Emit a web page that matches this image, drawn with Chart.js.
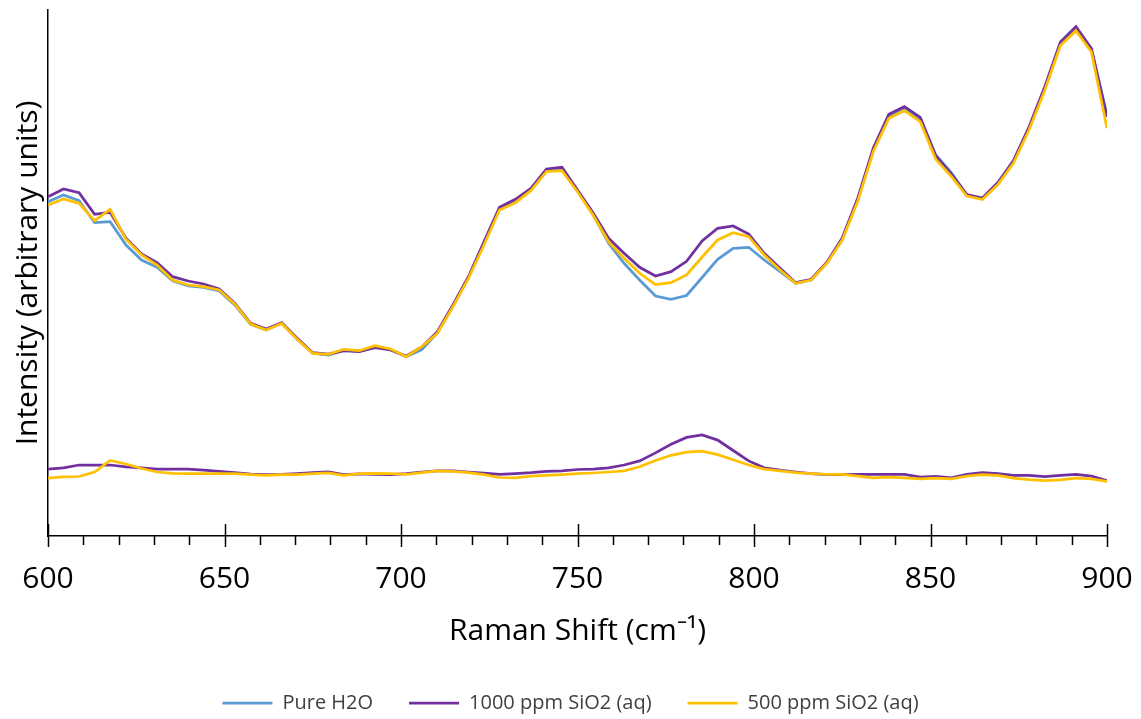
<!DOCTYPE html>
<html>
<head>
<meta charset="utf-8">
<script src="https://cdn.jsdelivr.net/npm/chart.js@4/dist/chart.umd.min.js"></script>
<style>
  html, body { margin: 0; padding: 0; background: #ffffff; }
  #wrap { width: 1141px; height: 719px; }
</style>
</head>
<body>
<div id="wrap"><canvas id="c" width="1141" height="719"></canvas></div>
<script>
// Raman shift positions (cm-1)
const ramanShift = [600.0, 604.4, 608.8, 613.2, 617.6, 622.1, 626.5, 630.9, 635.3, 639.7, 644.1, 648.5, 652.9, 657.4, 661.8, 666.2, 670.6, 675.0, 679.4, 683.8, 688.2, 692.6, 697.1, 701.5, 705.9, 710.3, 714.7, 719.1, 723.5, 727.9, 732.4, 736.8, 741.2, 745.6, 750.0, 754.4, 758.8, 763.2, 767.6, 772.1, 776.5, 780.9, 785.3, 789.7, 794.1, 798.5, 802.9, 807.4, 811.8, 816.2, 820.6, 825.0, 829.4, 833.8, 838.2, 842.6, 847.1, 851.5, 855.9, 860.3, 864.7, 869.1, 873.5, 877.9, 882.4, 886.8, 891.2, 895.6, 900.0];

// Intensities (arbitrary units)
const pureH2O = [334.3, 341, 335.3, 313.3, 314.3, 291, 276, 268.7, 255.3, 250, 248.7, 245, 231, 211.7, 206, 212.7, 196.7, 182.7, 181, 185.3, 185, 189.3, 186, 179.3, 186.5, 203, 230, 258.7, 292.7, 327, 335, 346.7, 366, 366.7, 345.3, 322, 292.7, 272.7, 256, 240, 236.7, 240.5, 258.5, 276.7, 287.7, 288.7, 276, 264.3, 252.7, 256, 273, 296.7, 336.5, 386.5, 419.5, 427.7, 417, 381, 363.3, 341, 337.5, 352.7, 374.3, 407.7, 447.7, 492.5, 507.5, 486, 421];

const sio2_1000 = [339.3, 347, 343.3, 321.7, 323.7, 297.7, 282, 273.3, 259.3, 255, 252, 247, 232.7, 212.7, 207, 213.3, 197.7, 183.3, 182, 185.3, 184.3, 188.3, 186, 180, 189, 204.3, 231, 259.3, 294.3, 328.7, 336.7, 347.7, 367, 368.7, 346, 323.3, 297.7, 282.7, 268.7, 260, 264.3, 274.7, 295, 307.7, 310, 302, 282.7, 267.7, 253.3, 256.7, 273.5, 298, 338, 388, 421.7, 429.3, 418.7, 380, 362, 341.5, 338, 353.5, 375.5, 409, 449.5, 494, 509.3, 487.5, 419];

const sio2_500 = [331, 337, 332.7, 315.3, 326.7, 296.7, 281, 271, 256, 251, 249.3, 246, 232, 212, 206, 212.7, 196.7, 182.7, 181.7, 186.7, 185.3, 190.3, 187, 179.3, 189.3, 202.7, 229.3, 257.7, 291, 326, 333.3, 345.3, 364.3, 365.3, 344.3, 321, 294.3, 277.7, 262.7, 251.5, 253.3, 261, 279, 296, 303.3, 299.3, 281, 266, 252.7, 256, 272.5, 296, 335, 384.5, 417.7, 425.3, 414.3, 376.7, 359.5, 340, 336.5, 351.5, 373, 406, 446, 490.5, 505.3, 484, 407.7];

// lower traces
const diff_1000 = [66.8, 68.2, 71.0, 71.0, 71.0, 69.2, 68.2, 66.8, 66.8, 66.8, 65.8, 64.7, 63.3, 62.0, 61.3, 61.6, 62.3, 63.3, 64.0, 61.3, 62.0, 61.6, 61.3, 62.3, 64.0, 65.1, 65.1, 64.0, 63.0, 61.6, 62.3, 63.3, 64.7, 65.1, 66.5, 66.8, 68.2, 71.0, 75.1, 83.1, 91.7, 98.6, 101.1, 95.9, 85.5, 75.1, 68.2, 65.8, 64.0, 62.3, 61.3, 61.3, 61.6, 61.6, 61.6, 61.6, 58.8, 59.5, 58.2, 61.6, 63.3, 62.3, 60.6, 60.6, 59.5, 60.6, 61.6, 59.9, 55.4];

const diff_500 = [57.8, 59.2, 59.5, 64.0, 75.5, 72.0, 67.5, 64.0, 62.7, 62.3, 62.3, 62.3, 62.3, 61.3, 60.6, 61.3, 61.3, 62.3, 63.0, 60.6, 62.3, 62.7, 62.3, 61.6, 63.3, 65.1, 64.7, 63.3, 61.3, 58.5, 58.2, 59.9, 60.6, 61.3, 62.3, 63.0, 64.0, 65.1, 69.2, 75.5, 80.7, 83.8, 84.8, 81.3, 76.2, 71.0, 66.8, 65.1, 63.3, 62.3, 61.6, 61.6, 59.9, 58.2, 58.8, 58.2, 57.1, 57.8, 57.1, 59.9, 61.3, 60.6, 57.8, 56.4, 55.4, 56.1, 57.8, 57.1, 54.7];

const seriesNames = ['Pure H2O', '1000 ppm SiO2 (aq)', '500 ppm SiO2 (aq)'];
const majorTicks = [600, 650, 700, 750, 800, 850, 900];

const BLUE = '#5B9BD5', PURPLE = '#7030A0', YELLOW = '#FFC000';
const FONT = "'Open Sans', 'Liberation Sans', sans-serif";

function pts(ys) { return ys.map((y, i) => ({ x: ramanShift[i], y: y })); }
function ds(label, ys, color, order) {
  return { label, data: pts(ys), borderColor: color, backgroundColor: color,
           borderWidth: 2.75, pointRadius: 0, pointHoverRadius: 0, tension: 0,
           fill: false, order };
}

// axis tick marks: minor ticks below the axis, major ticks crossing it
const crossTicks = {
  id: 'crossTicks',
  afterDraw(chart) {
    const { ctx, scales: { x }, chartArea } = chart;
    ctx.save();
    ctx.strokeStyle = '#000';
    ctx.lineWidth = 1.5;
    ctx.beginPath();
    x.ticks.forEach(t => {
      const px = Math.round(x.getPixelForValue(t.value)) + 0.5;
      const major = majorTicks.includes(t.value);
      ctx.moveTo(px, chartArea.bottom + (major ? -12 : 0));
      ctx.lineTo(px, chartArea.bottom + (major ? 11 : 9));
    });
    ctx.stroke();
    ctx.restore();
  }
};

new Chart(document.getElementById('c'), {
  type: 'line',
  data: {
    datasets: [
      ds(seriesNames[0], pureH2O, BLUE, 5),
      ds(seriesNames[1], sio2_1000, PURPLE, 4),
      ds(seriesNames[2], sio2_500, YELLOW, 3),
      ds('1000 ppm lower', diff_1000, PURPLE, 2),
      ds('500 ppm lower', diff_500, YELLOW, 1)
    ]
  },
  options: {
    responsive: false,
    animation: false,
    devicePixelRatio: 1,
    layout: { padding: { top: 10, left: 0, right: 0, bottom: -4 } },
    plugins: {
      tooltip: { enabled: false },
      legend: {
        display: true,
        position: 'bottom',
        labels: {
          font: { family: FONT, size: 20 },
          color: '#404040',
          usePointStyle: true,
          pointStyle: 'line',
          pointStyleWidth: 50,
          padding: 36,
          filter: (item) => item.datasetIndex < 3,
          sort: (a, b) => a.datasetIndex - b.datasetIndex
        }
      }
    },
    scales: {
      x: {
        type: 'linear',
        min: 600, max: 900,
        grid: { display: true, drawOnChartArea: false, drawTicks: true, tickLength: 25, tickColor: 'rgba(0,0,0,0)', color: 'rgba(0,0,0,0)' },
        border: { display: true, color: '#000', width: 1.5 },
        ticks: {
          stepSize: 10, autoSkip: false, maxRotation: 0, padding: 0,
          color: '#000', font: { family: FONT, size: 30 },
          callback: (v) => (v % 50 === 0 ? String(v) : '')
        },
        title: {
          display: true, text: 'Raman Shift (cm⁻¹)',
          color: '#000', font: { family: FONT, size: 30 },
          padding: { top: 0, bottom: 8 }
        },
        afterFit: (s) => {
          const lh = s.chart.legend ? s.chart.legend.height : 66;
          s.height = 719 + 4 - 536 - lh;
        }
      },
      y: {
        type: 'linear',
        min: 0, max: 526,
        grid: { display: false },
        border: { display: true, color: '#000', width: 1.5 },
        ticks: { display: false },
        title: {
          display: true, text: 'Intensity (arbitrary units)',
          color: '#000', font: { family: FONT, size: 30 },
          padding: { top: 10, bottom: 0 }
        },
        afterFit: (s) => { s.width = 48; }
      },
      yR: {
        type: 'linear', position: 'right', display: true,
        grid: { display: false }, border: { display: false },
        ticks: { display: false },
        afterFit: (s) => { s.width = 34; }
      }
    }
  },
  plugins: [crossTicks]
});
</script>
</body>
</html>
